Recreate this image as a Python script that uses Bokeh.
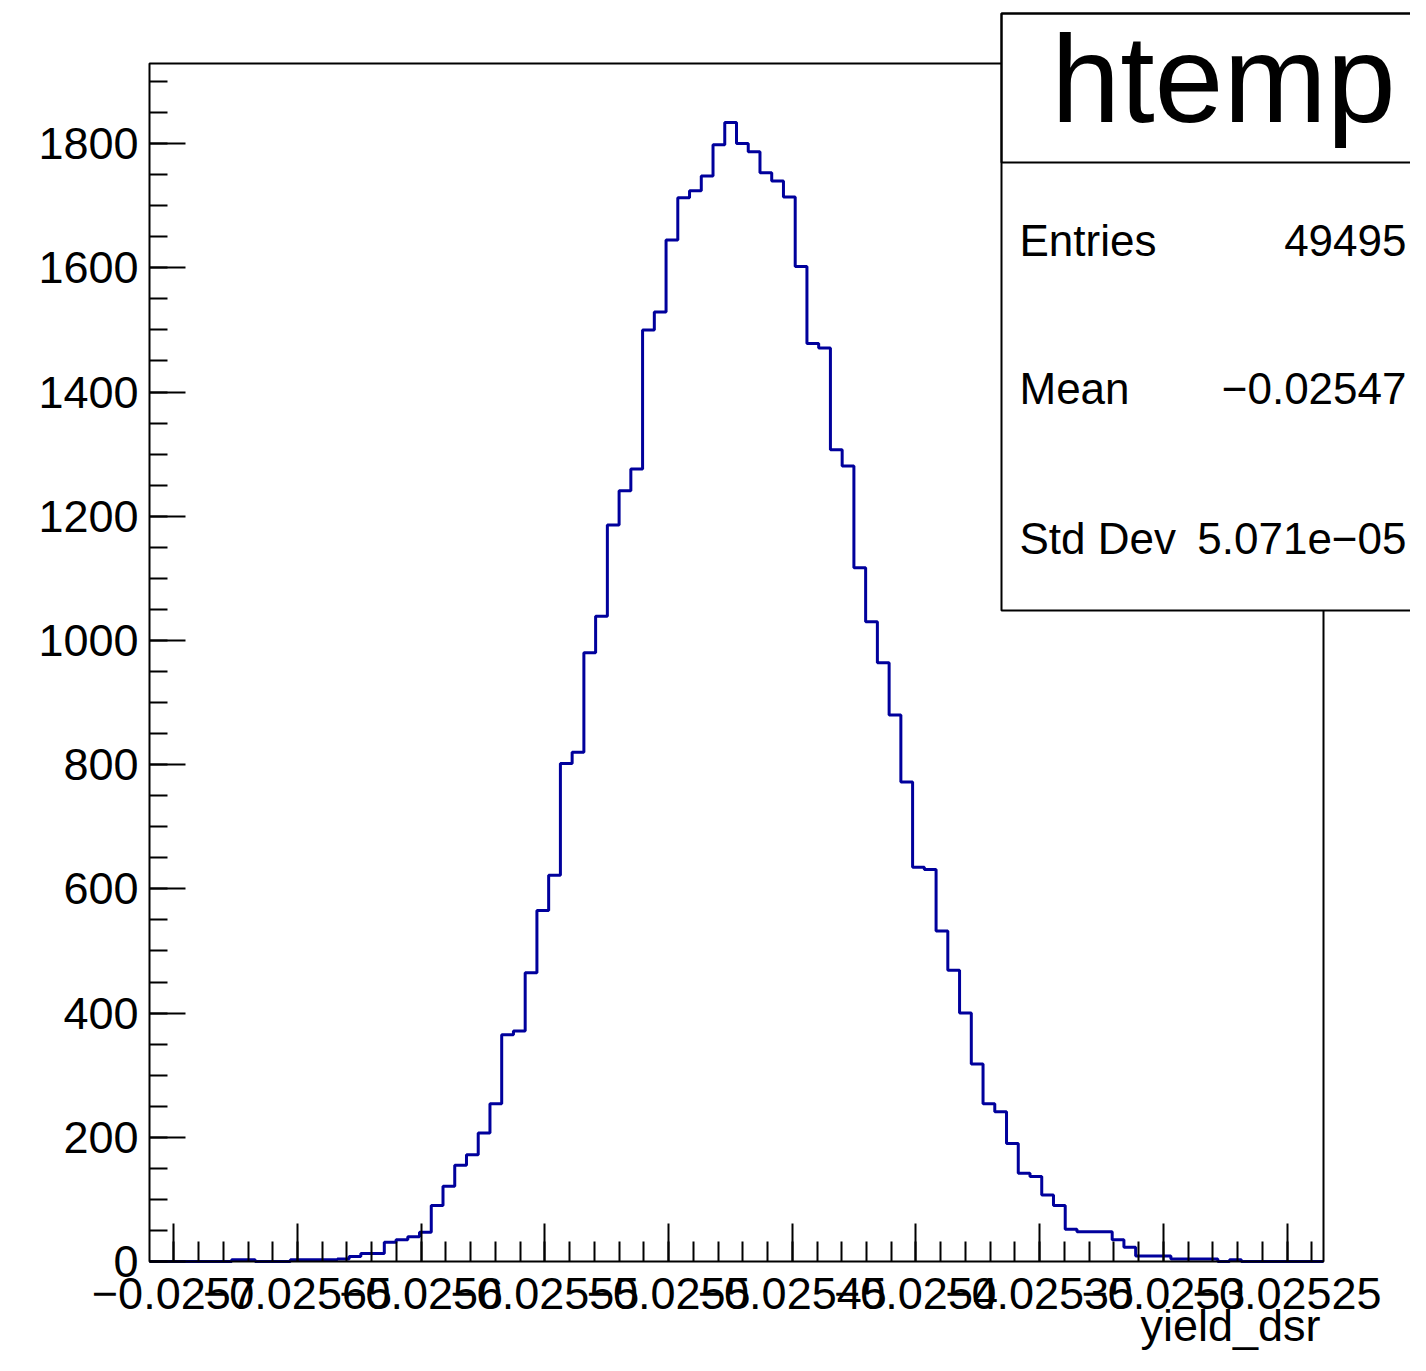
from bokeh.plotting import figure
from bokeh.models import (Range1d, LinearAxis, FixedTicker, CustomJSTickFormatter,
                          BoxAnnotation, Label)
from bokeh.embed import file_html
from bokeh.resources import INLINE

# ---- data -------------------------------------------------------------
XMIN = -0.02570982
XMAX = -0.02523528
NBINS = 100
counts = [
    0, 0, 0, 0, 0, 0, 0, 3, 3, 0,
    0, 0, 3, 3, 3, 3, 4, 8, 13, 13,
    31, 35, 40, 47, 90, 121, 155, 172, 207, 254,
    365, 371, 465, 565, 622, 802, 820, 980, 1039, 1186,
    1241, 1276, 1500, 1529, 1645, 1713, 1724, 1748, 1798, 1834,
    1800, 1787, 1753, 1740, 1714, 1602, 1478, 1471, 1307, 1281,
    1117, 1030, 964, 880, 772, 635, 631, 532, 469, 400,
    318, 254, 241, 190, 142, 137, 107, 90, 52, 48,
    48, 48, 35, 23, 9, 9, 9, 4, 4, 4,
    4, 0, 3, 0, 0, 0, 0, 0, 0, 0,
]
x_major_ticks = [-0.0257, -0.02565, -0.0256, -0.02555, -0.0255,
                 -0.02545, -0.0254, -0.02535, -0.0253, -0.02525]
x_minor_ticks = [-0.02571 + 0.00001 * i for i in range(1, 48)]
y_major_ticks = [0, 200, 400, 600, 800, 1000, 1200, 1400, 1600, 1800]
y_minor_ticks = [50 * i for i in range(39)]
YMAX = 1929
hist_name = "htemp"
x_title = "yield_dsr"
stat_labels = ["Entries", "Mean", "Std Dev"]
stat_values = ["49495", "\u22120.02547", "5.071e\u221205"]

FONT = "Liberation Sans"

# ---- layout (canvas pixels) -------------------------------------------
W, H = 1410, 1355
FX0, FX1 = 149, 1323        # plot frame left / right
FY0, FY1 = 63, 1261         # plot frame top / bottom

sx = (XMAX - XMIN) / (FX1 - FX0)
sy = YMAX / (FY1 - FY0)
x_range = Range1d(XMIN - FX0 * sx, XMIN + (W - FX0) * sx)
y_range = Range1d(-(H - FY1) * sy, YMAX + FY0 * sy)

p = figure(width=W, height=H, output_backend="svg", toolbar_location=None,
           x_range=x_range, y_range=y_range, min_border=0,
           x_axis_type=None, y_axis_type=None)
p.xgrid.visible = False
p.ygrid.visible = False
p.outline_line_color = None
p.background_fill_color = "white"
p.border_fill_color = "white"

bw = (XMAX - XMIN) / NBINS
edges = [XMIN + bw * i for i in range(NBINS + 1)]
p.step(x=edges, y=counts + [counts[-1]], mode="after", line_color="#00009c",
       line_width=3)

# plot frame
p.quad(left=[XMIN], right=[XMAX], bottom=[0], top=[YMAX], fill_color=None,
       line_color="black", line_width=2)

xfmt = CustomJSTickFormatter(code="""
    const s = parseFloat(Math.abs(tick).toFixed(6)).toString();
    return (tick < 0 ? '\\u2212' : '') + s;
""")

xaxis = LinearAxis(ticker=FixedTicker(ticks=x_major_ticks, minor_ticks=x_minor_ticks),
                   formatter=xfmt, fixed_location=0)
yaxis = LinearAxis(ticker=FixedTicker(ticks=y_major_ticks, minor_ticks=y_minor_ticks),
                   fixed_location=XMIN)
for ax, tin, min_in in ((xaxis, 38, 20), (yaxis, 36, 18)):
    ax.major_tick_in = tin
    ax.major_tick_out = 0
    ax.minor_tick_in = min_in
    ax.minor_tick_out = 0
    ax.axis_line_color = None
    ax.major_tick_line_width = 2
    ax.minor_tick_line_width = 2
    ax.major_tick_line_color = "black"
    ax.minor_tick_line_color = "black"
    ax.major_label_text_font = FONT
    ax.major_label_text_font_size = "45px"
    ax.major_label_text_color = "black"
xaxis.major_label_standoff = 16
yaxis.major_label_standoff = 11
p.add_layout(xaxis, "below")
p.add_layout(yaxis, "left")

# ---- stats box --------------------------------------------------------
box_all = BoxAnnotation(left=1001, right=1440, top=13, bottom=610,
                        left_units="canvas", right_units="canvas",
                        top_units="canvas", bottom_units="canvas",
                        fill_color="white", fill_alpha=1.0,
                        line_color="black", line_width=2, line_alpha=1.0)
box_title = BoxAnnotation(left=1001, right=1440, top=13, bottom=162,
                          left_units="canvas", right_units="canvas",
                          top_units="canvas", bottom_units="canvas",
                          fill_alpha=0.0, line_color="black", line_width=2,
                          line_alpha=1.0)
p.add_layout(box_all)
p.add_layout(box_title)

p.add_layout(Label(x=1223, y=78, x_units="canvas", y_units="canvas", text=hist_name,
                   text_align="center", text_baseline="middle",
                   text_font=FONT, text_font_size="124px", text_color="black"))
rows_y = [240, 388, 538]
for lab, val, yy in zip(stat_labels, stat_values, rows_y):
    p.add_layout(Label(x=1019, y=yy, x_units="canvas", y_units="canvas", text=lab,
                       text_align="left", text_baseline="middle",
                       text_font=FONT, text_font_size="44px", text_color="black"))
    p.add_layout(Label(x=1406, y=yy, x_units="canvas", y_units="canvas", text=val,
                       text_align="right", text_baseline="middle",
                       text_font=FONT, text_font_size="44px", text_color="black"))

p.add_layout(Label(x=1320, y=1325, x_units="canvas", y_units="canvas", text=x_title,
                   text_align="right", text_baseline="middle",
                   text_font=FONT, text_font_size="45px", text_color="black"))

open("out.html", "w").write(file_html(p, INLINE))
